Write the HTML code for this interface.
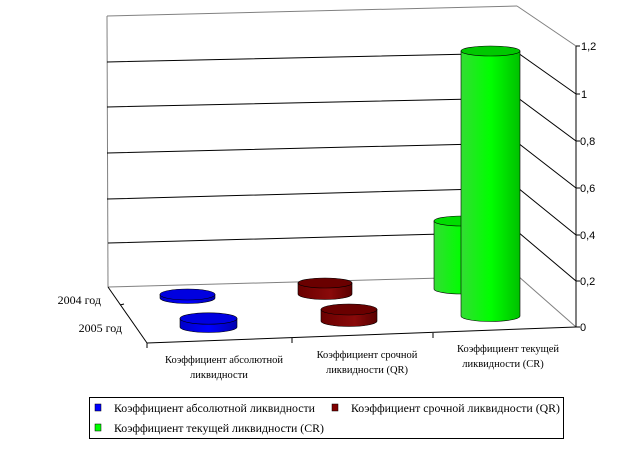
<!DOCTYPE html>
<html><head><meta charset="utf-8"><style>
html,body{margin:0;padding:0;background:#fff;}
svg{display:block;font-family:"Liberation Serif",serif;}
</style></head><body>
<svg width="643" height="449" viewBox="0 0 643 449" xmlns="http://www.w3.org/2000/svg">
<defs>
<linearGradient id="gb" x1="0" x2="1"><stop offset="0" stop-color="#0000c8"/><stop offset="0.5" stop-color="#0000ff"/><stop offset="1" stop-color="#0000b0"/></linearGradient>
<linearGradient id="gr" x1="0" x2="1"><stop offset="0" stop-color="#6a0000"/><stop offset="0.6" stop-color="#8a0a0a"/><stop offset="1" stop-color="#5a0000"/></linearGradient>
<linearGradient id="gg" x1="0" x2="1"><stop offset="0" stop-color="#33dd33"/><stop offset="0.5" stop-color="#00ff00"/><stop offset="1" stop-color="#00c000"/></linearGradient>
</defs>
<g stroke="#808080" stroke-width="1" fill="none">
<line x1="107" y1="16" x2="517" y2="6"/>
<line x1="107" y1="16" x2="108" y2="287"/>
<line x1="108" y1="287" x2="518" y2="276"/>
<line x1="517" y1="6" x2="576" y2="46"/>
<line x1="518" y1="276" x2="576" y2="327"/>
</g>
<g stroke="#000" stroke-width="1" fill="none">
<polyline points="107,62 518,53 576,94"/>
<polyline points="107,107 518,98 576,141"/>
<polyline points="107,153 518,143 576,188"/>
<polyline points="107,199 518,188 576,235"/>
<polyline points="108,243 518,232 576,281"/>
<line x1="576" y1="46" x2="576" y2="327"/>
<line x1="108" y1="287" x2="147" y2="343"/>
<line x1="147" y1="343" x2="576" y2="327"/>
<line x1="147" y1="343" x2="147" y2="348"/>
<line x1="292" y1="338" x2="292" y2="343"/>
<line x1="433" y1="333" x2="433" y2="338"/>
<line x1="576" y1="46" x2="580" y2="46"/>
<line x1="576" y1="94" x2="580" y2="94"/>
<line x1="576" y1="141" x2="580" y2="141"/>
<line x1="576" y1="188" x2="580" y2="188"/>
<line x1="576" y1="235" x2="580" y2="235"/>
<line x1="576" y1="281" x2="580" y2="281"/>
<line x1="576" y1="327" x2="580" y2="327"/>
<line x1="120" y1="305" x2="124" y2="304"/>
</g>
<g font-family="Liberation Sans, sans-serif" font-size="11" fill="#000">
<text x="581" y="50">1,2</text>
<text x="581" y="98">1</text>
<text x="580" y="145">0,8</text>
<text x="580" y="192">0,6</text>
<text x="580" y="239">0,4</text>
<text x="580" y="285">0,2</text>
<text x="580" y="331">0</text>
</g>
<g stroke="#000" stroke-width="0.6">
<path d="M298,283 L298,294 A27,5.5 0 0 0 352,294 L352,283 Z" fill="url(#gr)"/>
<ellipse cx="325" cy="283" rx="27" ry="5" fill="#6a0000"/>
<path d="M160,294.5 L160,298 A27.5,5.5 0 0 0 215,298 L215,294.5 Z" fill="url(#gb)"/>
<ellipse cx="187.5" cy="294.5" rx="27.5" ry="5.5" fill="#0000e0"/>
<path d="M434,221 L434,289 A28,5 0 0 0 490,289 L490,221 Z" fill="url(#gg)"/>
<ellipse cx="462" cy="221" rx="28" ry="5" fill="#00dd00"/>
<path d="M321,309.5 L321,321 A28,5.5 0 0 0 377,321 L377,309.5 Z" fill="url(#gr)"/>
<ellipse cx="349" cy="309.5" rx="28" ry="5.5" fill="#6a0000"/>
<path d="M180,318.5 L180,327 A28.5,5.5 0 0 0 237,327 L237,318.5 Z" fill="url(#gb)"/>
<ellipse cx="208.5" cy="318.5" rx="28.5" ry="5.7" fill="#0000e0"/>
<path d="M461,51 L461,316 A29.5,5.5 0 0 0 520,316 L520,51 Z" fill="url(#gg)"/>
<ellipse cx="490.5" cy="51" rx="29.5" ry="5" fill="#00c800"/>
</g>
<g font-size="12" fill="#000">
<text x="101" y="304" text-anchor="end">2004 год</text>
<text x="122" y="332" text-anchor="end">2005 год</text>
</g>
<g font-size="10.5" fill="#000" text-anchor="middle">
<text x="224" y="363">Коэффициент абсолютной</text>
<text x="219" y="378">ликвидности</text>
<text x="367" y="358">Коэффициент срочной</text>
<text x="367" y="373">ликвидности (QR)</text>
<text x="508" y="352">Коэффициент текущей</text>
<text x="503" y="367">ликвидности (CR)</text>
</g>
<rect x="89.5" y="397.5" width="474" height="41" fill="none" stroke="#000" stroke-width="1"/>
<rect x="95" y="404" width="6" height="7" fill="#0000ff" stroke="#000" stroke-width="0.5"/>
<rect x="332" y="404" width="6" height="7" fill="#800000" stroke="#000" stroke-width="0.5"/>
<rect x="95" y="424" width="6" height="7" fill="#00ff00" stroke="#000" stroke-width="0.5"/>
<g font-size="12" fill="#000">
<text x="114" y="412" textLength="201" lengthAdjust="spacingAndGlyphs">Коэффициент абсолютной ликвидности</text>
<text x="351" y="412" textLength="209" lengthAdjust="spacingAndGlyphs">Коэффициент срочной ликвидности (QR)</text>
<text x="114" y="432" textLength="210" lengthAdjust="spacingAndGlyphs">Коэффициент текущей ликвидности (CR)</text>
</g>
</svg>
</body></html>
